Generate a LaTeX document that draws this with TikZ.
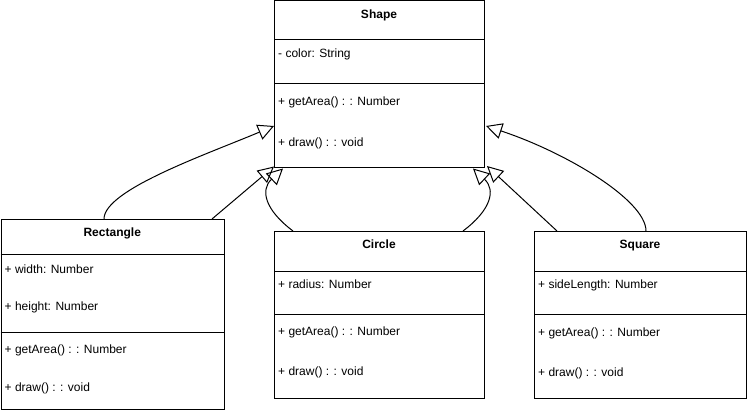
\documentclass[tikz,border=0pt]{standalone}
\usepackage{fontspec}
\setmainfont{Liberation Sans}
\usetikzlibrary{arrows.meta,calc}
\begin{document}
\begin{tikzpicture}[x=1pt,y=-1pt,
  box/.style={draw=black, line width=1pt, fill=white, inner sep=0pt, anchor=north west},
  txt/.style={inner sep=0pt, anchor=base west, font=\fontsize{12}{14}\selectfont},
  ttl/.style={inner sep=0pt, anchor=base, font=\fontsize{12}{14}\selectfont\bfseries},
  sepline/.style={line width=1pt},
  ext/.style={line width=1pt, -{Triangle[open, length=16pt, width=16pt]}},
]
\useasboundingbox (0,0) rectangle (747,414);

% Shape
\node[box, minimum width=210pt, minimum height=166.5pt] (shape) at (274,0.5) {};
\draw[sepline] (274,40) -- (484,40);
\draw[sepline] (274,84) -- (484,84);
\node[ttl] (shname) at (379,18.3) {Shape};
\node[txt] (shcolor) at (278,57.3) {- color: String};
\node[txt] (sharea) at (278,105.3) {+ getArea() : : Number};
\node[txt] (shdraw) at (278,146.3) {+ draw() : : void};

% Rectangle
\node[box, minimum width=223.5pt, minimum height=190pt] (rect) at (0.5,219) {};
\draw[sepline] (0.5,254.6) -- (224,254.6);
\draw[sepline] (0.5,332) -- (224,332);
\node[ttl] (rname) at (112.25,236.3) {Rectangle};
\node[txt] (rwidth) at (4.5,273.3) {+ width: Number};
\node[txt] (rheight) at (4.5,310.8) {+ height: Number};
\node[txt] (rarea) at (4.5,353.8) {+ getArea() : : Number};
\node[txt] (rdraw) at (4.5,391.3) {+ draw() : : void};

% Circle
\node[box, minimum width=210pt, minimum height=167pt] (circ) at (274,231) {};
\draw[sepline] (274,271) -- (484,271);
\draw[sepline] (274,314) -- (484,314);
\node[ttl] (cname) at (379,248.3) {Circle};
\node[txt] (cradius) at (278,288.3) {+ radius: Number};
\node[txt] (carea) at (278,335.8) {+ getArea() : : Number};
\node[txt] (cdraw) at (278,375.8) {+ draw() : : void};

% Square
\node[box, minimum width=212pt, minimum height=167pt] (sq) at (534,231) {};
\draw[sepline] (534,271) -- (746,271);
\draw[sepline] (534,314) -- (746,314);
\node[ttl] (sname) at (640,248.3) {Square};
\node[txt] (sside) at (538,288.3) {+ sideLength: Number};
\node[txt] (sarea) at (538,336.3) {+ getArea() : : Number};
\node[txt] (sdraw) at (538,376.8) {+ draw() : : void};

% Inheritance connectors
\draw[ext] ($(rect.north west)+(103.5,0)$) .. controls (104,190) and (205,155) .. ($(shape.north west)+(0,125.5)$);
\draw[ext] ($(rect.north west)+(211.5,0)$) -- ($(shape.south west)+(0,-1.5)$);
\draw[ext] ($(circ.north west)+(19,0)$) .. controls (265,210) and (260,190) .. ($(shape.south west)+(9,0.5)$);
\draw[ext] ($(circ.north west)+(189,0)$) .. controls (491,210) and (496,190) .. ($(shape.south west)+(199,0.5)$);
\draw[ext] ($(sq.north west)+(23,0)$) -- ($(shape.south east)+(2,-2)$);
\draw[ext] ($(sq.north west)+(112,0)$) .. controls (646,200) and (565,152) .. ($(shape.north east)+(1,125.5)$);
\end{tikzpicture}
\end{document}
